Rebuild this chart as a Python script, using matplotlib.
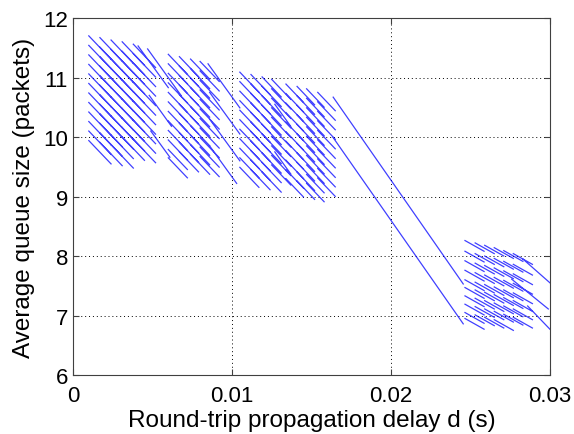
import matplotlib
matplotlib.use('Agg')
import matplotlib.pyplot as plt
import numpy as np

plt.rcParams['font.family'] = ['Liberation Sans', 'DejaVu Sans']

# short stripes, grouped by cluster
# levels: stripe start heights at the first column, cols: column start d,
# shift: how far each column sits below the first, floor: lowest start kept
c1_levels = [11.70, 11.54, 11.38, 11.22, 11.06, 10.90, 10.74, 10.58, 10.42, 10.26, 10.10, 9.94]
c1_cols = [0.0010, 0.0017, 0.0024, 0.0031, 0.0038]
c1_shift = [0.00, 0.03, 0.07, 0.10, 0.14]
c1_floor = 9.85
c1_len = 0.0014
c1_slope = -280

c2_levels = [11.39, 11.23, 11.07, 10.91, 10.75, 10.59, 10.43, 10.27, 10.11, 9.95, 9.79, 9.65]
c2_cols = [0.0060, 0.0067, 0.0074, 0.0080]
c2_shift = [0.00, 0.04, 0.08, 0.12]
c2_floor = 9.62
c2_len = 0.0012
c2_slope = -280

c3_levels = [11.09, 10.93, 10.77, 10.61, 10.45, 10.29, 10.13, 9.97, 9.81, 9.65, 9.49]
c3_cols = [0.0105, 0.0112, 0.0119, 0.0125]
c3_shift = [0.00, 0.04, 0.08, 0.12]
c3_floor = 9.40
c3_len = 0.0012
c3_slope = -280

c4_levels = [10.89, 10.73, 10.57, 10.41, 10.25, 10.09, 9.93, 9.77, 9.61, 9.45, 9.30]
c4_cols = [0.0134, 0.0141, 0.0147, 0.0154]
c4_shift = [0.00, 0.04, 0.08, 0.14]
c4_floor = 9.22
c4_len = 0.0011
c4_slope = -280

c5_levels = [8.26, 8.08, 7.92, 7.76, 7.60, 7.47, 7.33, 7.19, 7.05, 6.95]
c5_cols = [0.02466, 0.0253, 0.0259, 0.0265, 0.0271, 0.0277]
c5_shift = [0.00, 0.04, 0.08, 0.12, 0.17, 0.22]
c5_floor = 6.93
c5_len = 0.0012
c5_slope = -150

clusters = [
    (c1_levels, c1_cols, c1_shift, c1_floor, c1_len, c1_slope),
    (c2_levels, c2_cols, c2_shift, c2_floor, c2_len, c2_slope),
    (c3_levels, c3_cols, c3_shift, c3_floor, c3_len, c3_slope),
    (c4_levels, c4_cols, c4_shift, c4_floor, c4_len, c4_slope),
    (c5_levels, c5_cols, c5_shift, c5_floor, c5_len, c5_slope),
]

# long straight runs between the clusters
long_x0 = [0.0041, 0.0047, 0.0048, 0.0049, 0.0085, 0.0086, 0.0086, 0.0086,
           0.0127, 0.0127, 0.01637, 0.01637, 0.0283, 0.0276, 0.0286]
long_y0 = [11.53, 11.48, 10.70, 10.10, 11.23, 10.75, 10.30, 9.85,
           10.55, 9.75, 10.67, 9.99, 7.95, 7.61, 7.16]
long_x1 = [0.0060, 0.0068, 0.0062, 0.0061, 0.0105, 0.0105, 0.0105, 0.0103,
           0.0137, 0.0137, 0.02455, 0.02455, 0.0300, 0.0299, 0.0300]
long_y1 = [10.83, 10.70, 10.18, 9.66, 10.49, 10.05, 9.60, 9.22,
           10.18, 9.38, 7.53, 6.86, 7.55, 7.11, 6.77]

xs = []
ys = []
for levels, cols, shift, floor, length, slope in clusters:
    for c, s in zip(cols, shift):
        for lev in levels:
            y0 = lev - s
            if y0 < floor:
                continue
            xs += [c, c + length, np.nan]
            ys += [y0, y0 + slope * length, np.nan]

for a, b, c, d in zip(long_x0, long_y0, long_x1, long_y1):
    xs += [a, c, np.nan]
    ys += [b, d, np.nan]

fig = plt.figure(figsize=(5.74, 4.35), dpi=100)
ax = fig.add_axes([0.127, 0.1356, 0.831, 0.8207])
ax.plot(xs, ys, color='#0000ff', linewidth=0.9, alpha=0.75)

ax.set_xlim(0, 0.03)
ax.set_ylim(6, 12)
ax.set_xticks([0, 0.01, 0.02, 0.03])
ax.set_xticklabels(['0', '0.01', '0.02', '0.03'])
ax.set_yticks([6, 7, 8, 9, 10, 11, 12])
ax.grid(True, color='black', linestyle=(0, (1, 3)), linewidth=0.7)
ax.tick_params(direction='in', top=True, right=True, length=4, labelsize=16,
               color='#404040')
ax.tick_params(axis='x', pad=7)
for sp in ax.spines.values():
    sp.set_color('#404040')
    sp.set_linewidth(0.8)

ax.set_xlabel('Round-trip propagation delay d (s)', fontsize=17.5, labelpad=2)
ax.set_ylabel('Average queue size (packets)', fontsize=17.5, labelpad=6)

fig.savefig('out.png', dpi=100)
